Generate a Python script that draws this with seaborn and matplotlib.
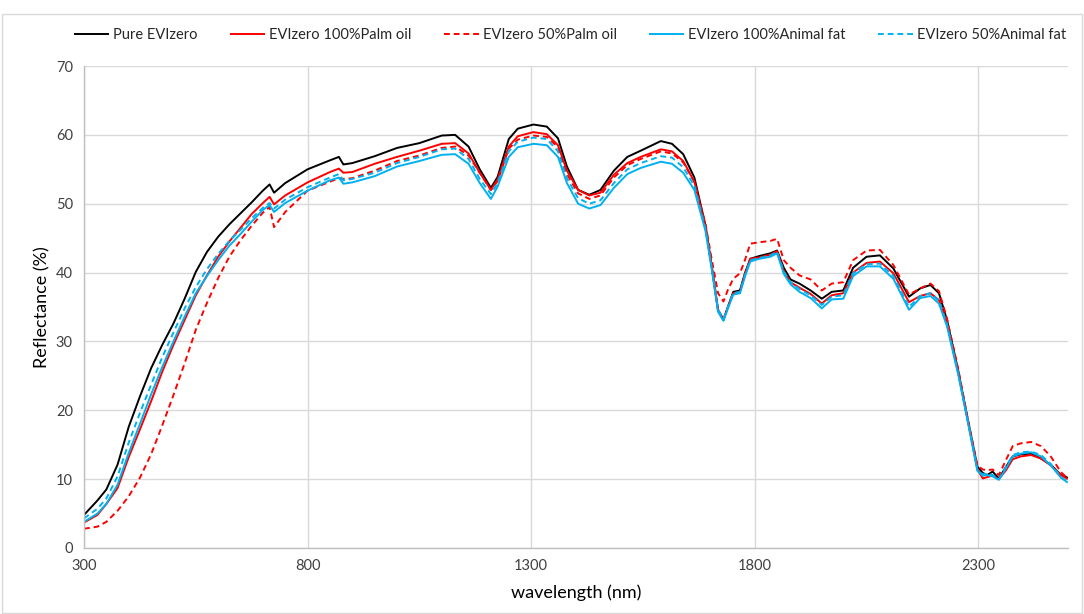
import numpy as np
import pandas as pd
import matplotlib
matplotlib.use("Agg")
import matplotlib.pyplot as plt
import seaborn as sns

# wavelength grid (nm)
wavelength = [
    300, 330, 350, 375, 400, 425, 450, 475, 500, 525,
    550, 575, 600, 625, 650, 675, 700, 715, 725, 750,
    800, 850, 870, 880, 900, 950, 1000, 1050, 1100, 1130,
    1160, 1185, 1210, 1225, 1250, 1270, 1305, 1335, 1360, 1380,
    1405, 1430, 1455, 1485, 1515, 1545, 1590, 1615, 1640, 1665,
    1690, 1705, 1718, 1730, 1740, 1752, 1767, 1778, 1790, 1810,
    1835, 1850, 1865, 1880, 1900, 1925, 1950, 1972, 1998, 2020,
    2050, 2080, 2110, 2145, 2170, 2193, 2212, 2230, 2255, 2275,
    2298, 2310, 2320, 2332, 2346, 2362, 2377, 2395, 2418, 2440,
    2462, 2485, 2500,
]

pure = [
    4.8, 6.9, 8.5, 12.1, 17.6, 22.0, 26.1, 29.5, 32.6, 36.2,
    40.1, 43.0, 45.2, 47.0, 48.6, 50.2, 51.9, 52.8, 51.6, 53.0,
    55.0, 56.3, 56.8, 55.7, 55.9, 56.9, 58.1, 58.8, 59.9, 60.0,
    58.3, 55.0, 52.3, 53.9, 59.4, 60.9, 61.5, 61.2, 59.5, 55.4,
    52.0, 51.3, 52.0, 54.8, 56.8, 57.7, 59.1, 58.7, 57.2, 53.8,
    46.8, 40.3, 34.5, 33.1, 35.0, 37.2, 37.4, 39.9, 42.0, 42.4,
    42.8, 43.2, 40.7, 39.0, 38.4, 37.4, 36.2, 37.2, 37.4, 40.7,
    42.3, 42.5, 40.6, 36.5, 37.7, 38.2, 37.0, 33.1, 25.8, 19.1,
    11.8, 10.9, 10.6, 11.1, 10.1, 11.8, 13.3, 13.6, 13.7, 13.0,
    12.1, 10.6, 10.2,
]

palm_100 = [
    3.7, 4.8, 6.4, 8.7, 13.2, 17.2, 21.3, 25.6, 29.5, 33.1,
    36.7, 39.6, 42.3, 44.5, 46.5, 48.5, 50.1, 51.0, 49.9, 51.2,
    53.1, 54.6, 55.1, 54.5, 54.6, 55.8, 56.8, 57.7, 58.7, 58.8,
    57.3, 54.5, 52.0, 53.5, 58.3, 59.8, 60.4, 60.1, 58.5, 54.8,
    52.0, 51.2, 51.6, 54.2, 55.9, 56.8, 57.9, 57.6, 56.2, 53.2,
    46.6, 40.5, 34.6, 33.2, 35.0, 37.0, 37.2, 39.7, 42.0, 42.2,
    42.6, 43.1, 40.2, 38.6, 37.8, 36.9, 35.5, 36.7, 37.0, 40.0,
    41.4, 41.6, 39.9, 35.7, 36.6, 37.0, 36.0, 32.6, 25.5, 19.0,
    11.4, 10.1, 10.3, 10.5, 10.0, 11.3, 12.9, 13.3, 13.5, 13.0,
    12.0, 10.6, 10.0,
]

palm_50 = [
    2.8, 3.1, 3.8, 5.4, 7.5, 10.2, 13.6, 17.8, 22.2, 26.8,
    31.7, 35.6, 39.2, 42.3, 44.7, 46.8, 48.7, 49.5, 46.6, 48.8,
    51.9, 53.2, 53.7, 53.6, 53.7, 54.8, 56.2, 57.0, 58.1, 58.3,
    57.0, 54.5, 52.0, 53.3, 58.0, 59.3, 59.9, 59.7, 58.2, 54.3,
    51.5, 50.7, 51.2, 53.8, 55.6, 56.5, 57.6, 57.3, 56.0, 53.2,
    47.0, 41.5, 37.0, 35.8, 37.5, 39.1, 39.9, 41.8, 44.2, 44.4,
    44.6, 44.9, 41.8, 40.7, 39.6, 39.0, 37.4, 38.4, 38.6, 41.8,
    43.2, 43.3, 41.1, 36.8, 37.7, 38.4, 37.3, 33.3, 26.0, 19.3,
    12.0, 11.4, 11.3, 11.4, 10.6, 12.8, 14.8, 15.2, 15.4, 14.8,
    13.3, 11.0, 10.1,
]

fat_100 = [
    3.8, 5.0, 6.4, 9.2, 13.8, 18.0, 22.3, 26.3, 30.0, 33.6,
    37.0, 39.5, 41.8, 43.9, 45.6, 47.4, 49.1, 49.8, 48.8, 50.1,
    51.9, 53.4, 53.8, 52.9, 53.1, 54.0, 55.4, 56.2, 57.1, 57.2,
    55.8, 53.0, 50.7, 52.5, 56.8, 58.2, 58.7, 58.5, 56.8, 53.0,
    50.0, 49.3, 49.8, 52.3, 54.3, 55.2, 56.1, 55.8, 54.5, 52.0,
    46.0, 40.0, 34.3, 33.0, 34.8, 36.8, 37.0, 39.4, 41.6, 42.0,
    42.3, 42.8, 39.8, 38.3, 37.2, 36.3, 34.8, 36.1, 36.2, 39.5,
    40.9, 40.9, 39.1, 34.6, 36.3, 36.6, 35.5, 32.2, 25.2, 18.8,
    11.2, 10.5, 10.6, 10.4, 9.9, 11.6, 13.3, 13.7, 13.9, 13.3,
    12.0, 10.2, 9.5,
]

fat_50 = [
    4.3, 5.7, 7.2, 10.4, 15.3, 19.6, 23.7, 27.7, 31.3, 34.8,
    37.9, 40.5, 42.7, 44.6, 46.2, 47.9, 49.4, 50.1, 49.3, 50.6,
    52.4, 53.8, 54.3, 53.4, 53.6, 54.5, 55.9, 56.8, 57.9, 58.0,
    56.5, 53.6, 51.4, 53.0, 57.6, 59.0, 59.6, 59.4, 57.6, 53.7,
    50.8, 50.0, 50.5, 53.0, 55.0, 55.9, 56.9, 56.7, 55.3, 52.6,
    46.3, 40.2, 34.6, 33.3, 35.0, 37.0, 37.2, 39.6, 41.8, 42.1,
    42.5, 43.0, 40.1, 38.6, 37.6, 36.7, 35.3, 36.5, 36.7, 39.9,
    41.2, 41.3, 39.5, 35.0, 36.6, 37.0, 35.9, 32.5, 25.4, 19.0,
    11.4, 10.7, 10.8, 10.6, 10.0, 11.8, 13.5, 13.9, 14.0, 13.5,
    12.2, 10.3, 9.6,
]

series_names = ["Pure EVIzero", "EVIzero 100%Palm oil", "EVIzero 50%Palm oil",
                "EVIzero 100%Animal fat", "EVIzero 50%Animal fat"]
x_ticks = [300, 800, 1300, 1800, 2300]
y_ticks = [0, 10, 20, 30, 40, 50, 60, 70]

sns.set_style("whitegrid")
plt.rcParams['font.family'] = ['Lato', 'DejaVu Sans']

df = pd.DataFrame({
    "wavelength": wavelength * 5,
    "reflectance": pure + palm_100 + palm_50 + fat_100 + fat_50,
    "sample": np.repeat(series_names, len(wavelength)),
})

colors = ["#000000", "#ff0000", "#ff0000", "#00b0f0", "#00b0f0"]
dashes = [(1, 0), (1, 0), (3, 2), (1, 0), (3, 2)]

fig = plt.figure(figsize=(10.84, 6.14), dpi=100)
ax = fig.add_axes([0.0775, 0.1075, 0.9075, 0.785])

sns.lineplot(data=df, x="wavelength", y="reflectance", hue="sample", style="sample",
             hue_order=series_names, style_order=series_names,
             palette=colors, dashes=dashes, linewidth=1.4, ax=ax, legend=True)

ax.set_xlim(300, 2500)
ax.set_ylim(0, 70)
ax.set_xticks(x_ticks)
ax.set_yticks(y_ticks)
ax.grid(True, color="#d9d9d9", linewidth=1.0)
ax.tick_params(axis="both", length=0, labelsize=10.5, colors="#404040", pad=8)
for side in ["top", "right"]:
    ax.spines[side].set_visible(False)
for side in ["left", "bottom"]:
    ax.spines[side].set_color("#bfbfbf")
    ax.spines[side].set_linewidth(1.0)

ax.set_xlabel("wavelength (nm)", fontsize=13, color="#000000", labelpad=8)
ax.set_ylabel("Reflectance (%)", fontsize=13, color="#000000", labelpad=4)

handles, labels = ax.get_legend_handles_labels()
ax.legend_.remove()
fig.legend(handles, labels, loc="center", bbox_to_anchor=(0.526, 0.943), ncol=5,
           frameon=False, fontsize=10.5, handlelength=2.4, columnspacing=2.2,
           handletextpad=0.3)

# thin chart-area border like the reference
fig.patches.append(plt.Rectangle((0.002, 0.002), 0.996, 0.975, transform=fig.transFigure,
                                 fill=False, edgecolor="#d9d9d9", linewidth=1.0))

plt.savefig("out.png", dpi=100)
plt.close()
